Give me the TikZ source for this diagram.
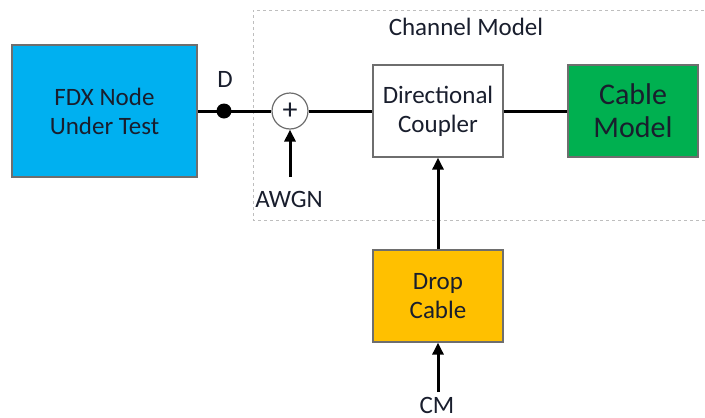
\documentclass[tikz,border=0pt]{standalone}
\usepackage{fontspec}
\setmainfont{Carlito}
\usetikzlibrary{positioning,arrows.meta,calc}
\definecolor{cmBlue}{RGB}{0,176,240}
\definecolor{cmGreen}{RGB}{0,176,80}
\definecolor{cmGold}{RGB}{255,192,0}
\definecolor{cmEdge}{RGB}{110,110,110}
\definecolor{cmText}{RGB}{25,30,45}
\definecolor{cmDash}{RGB}{190,190,190}

\begin{document}
\begin{tikzpicture}[x=1pt, y=-1pt,
    blockbox/.style={draw=cmEdge, line width=1.3pt, minimum width=130pt, minimum height=92pt,
      align=center, text=cmText, font=\fontsize{25}{29}\selectfont},
    wire/.style={line width=3pt, black},
    feed/.style={wire, -{Triangle[length=12pt,width=11pt]}},
    lbl/.style={text=cmText, font=\fontsize{25}{29}\selectfont}]
  \useasboundingbox (0,0) rectangle (705,418);

  % Channel model frame
  \draw[cmDash, dashed, line width=0.8pt] (710,10) -- (253,10) -- (253,220) -- (710,220);
  \node[lbl] (chlabel) at (466,27) {Channel Model};

  % Device under test
  \node[blockbox, fill=cmBlue, minimum width=185pt, minimum height=132pt] (fdx) at (104.5,111) {FDX Node\\Under Test};

  % Probe point D
  \fill (224,111) circle (7.5pt);
  \coordinate (probe) at (224,111);
  \node[lbl] (dlabel) at (225,79) {D};

  % Noise summer
  \node[circle, draw=cmEdge, fill=white, line width=1.2pt, minimum size=36pt, inner sep=0pt,
    text=cmText, font=\fontsize{30}{30}\selectfont] (sum) at (290,111) {+};
  \node[lbl] (awgn) at (289,199) {AWGN};
  \coordinate (awgnfoot) at (290,177);

  % Coupler, cable, drop
  \node[blockbox, fill=white] (coupler) at (438,111) {Directional\\Coupler};
  \node[blockbox, fill=cmGreen, font=\fontsize{30}{33}\selectfont] (cable) at (633,111) {Cable\\Model};
  \node[blockbox, fill=cmGold] (drop) at (438,296) {Drop\\Cable};
  \node[lbl] (cm) at (437,405) {CM};
  \coordinate (cmfoot) at (438,392);

  % Connections
  \draw[wire] (fdx.east) -- (probe) -- (sum.west);
  \draw[wire] (sum.east) -- (coupler.west);
  \draw[wire] (coupler.east) -- (cable.west);
  \draw[feed] (awgnfoot) -- (sum.south);
  \draw[feed] (drop.north) -- (coupler.south);
  \draw[feed] (cmfoot) -- (drop.south);
\end{tikzpicture}
\end{document}
